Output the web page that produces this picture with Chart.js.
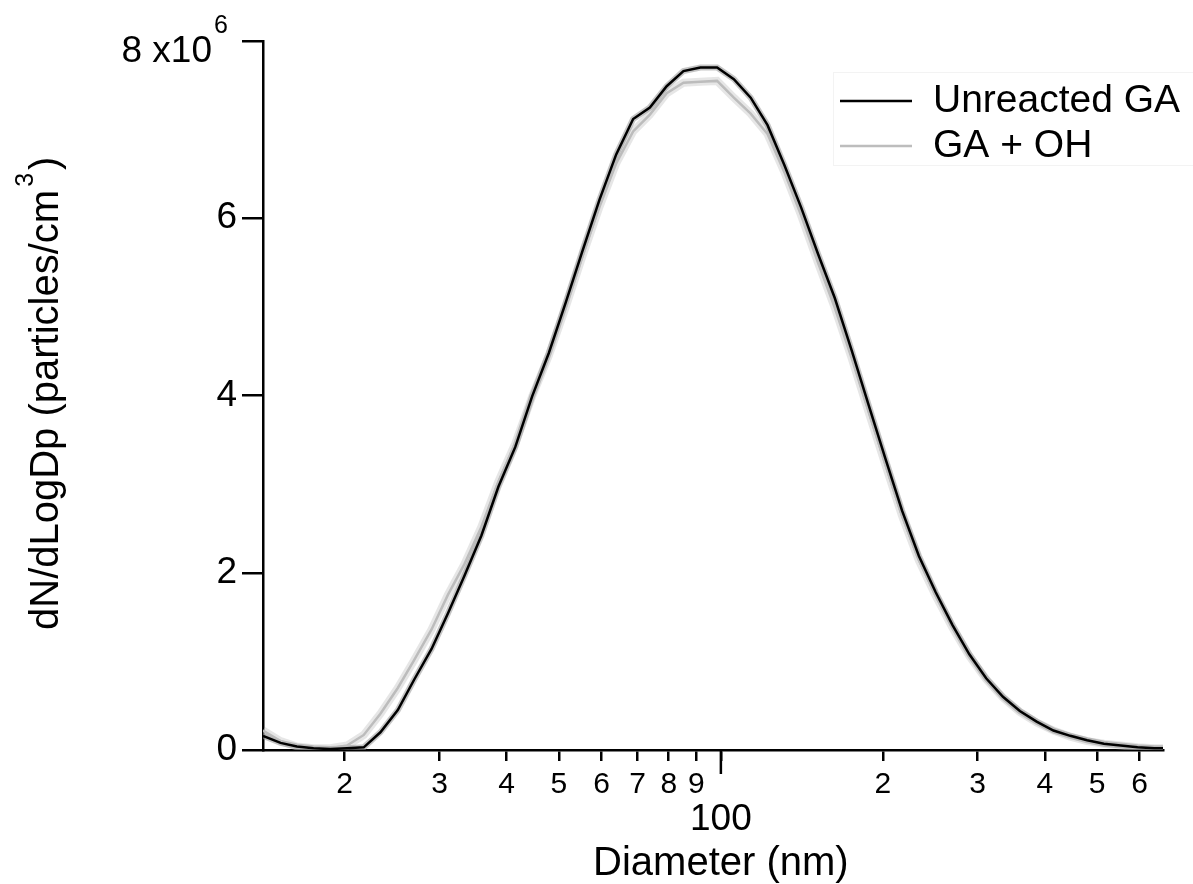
<!DOCTYPE html>
<html>
<head>
<meta charset="utf-8">
<script src="https://cdn.jsdelivr.net/npm/chart.js@4.4.1/dist/chart.umd.min.js"></script>
<style>
  html, body { margin: 0; padding: 0; background: #fff; }
  #wrap { position: relative; width: 1193px; height: 884px; }
</style>
</head>
<body>
<div id="wrap"><canvas id="c" width="1193" height="884"></canvas></div>
<script>
// Particle diameter bins (nm)
const diameterNm = [14.1, 15.2, 16.3, 17.5, 18.8, 20.2, 21.7, 23.3, 25.1, 26.9,
  29.0, 31.1, 33.4, 35.9, 38.6, 41.5, 44.6, 47.9, 51.5, 55.3,
  59.5, 63.9, 68.7, 73.8, 79.3, 85.2, 91.6, 98.4, 105.7, 113.6,
  122.1, 131.2, 141.0, 151.5, 162.8, 175.0, 188.0, 202.1, 217.1, 233.3,
  250.7, 269.4, 289.5, 311.1, 334.3, 359.3, 386.1, 414.9, 445.9, 479.1,
  514.9, 553.3, 594.6, 638.9, 663.0];
// dN/dLogDp in units of 10^6 particles/cm^3
const unreactedGA = [0.16, 0.08, 0.04, 0.02, 0.01, 0.02, 0.03, 0.20, 0.45, 0.79,
  1.14, 1.54, 1.97, 2.42, 2.97, 3.42, 3.99, 4.48, 5.05, 5.63,
  6.21, 6.72, 7.12, 7.25, 7.49, 7.66, 7.70, 7.70, 7.57, 7.36,
  7.05, 6.60, 6.12, 5.60, 5.10, 4.51, 3.90, 3.29, 2.70, 2.19,
  1.78, 1.41, 1.08, 0.81, 0.60, 0.44, 0.32, 0.22, 0.16, 0.11,
  0.07, 0.05, 0.03, 0.02, 0.02];
const gaPlusOH = [0.22, 0.10, 0.04, 0.02, 0.02, 0.05, 0.17, 0.41, 0.70, 1.01,
  1.36, 1.75, 2.10, 2.52, 3.03, 3.46, 3.99, 4.45, 5.00, 5.57,
  6.13, 6.62, 6.98, 7.17, 7.41, 7.53, 7.54, 7.55, 7.36, 7.18,
  6.95, 6.52, 6.03, 5.50, 4.99, 4.42, 3.82, 3.22, 2.64, 2.14,
  1.74, 1.38, 1.06, 0.80, 0.59, 0.43, 0.31, 0.22, 0.15, 0.10,
  0.07, 0.05, 0.03, 0.02, 0.02];
const seriesNames = ['Unreacted GA', 'GA + OH'];
const xTickValues = [20, 30, 40, 50, 60, 70, 80, 90, 100, 200, 300, 400, 500, 600];
const xTickLabels = ['2', '3', '4', '5', '6', '7', '8', '9', '', '2', '3', '4', '5', '6'];
const yTickValues = [0, 2, 4, 6, 8];
const yTickLabels = ['0', '2', '4', '6', ''];

const FONT = '"Liberation Sans", Arial, Helvetica, sans-serif';
const SCALE = 1e6;
const pts = arr => arr.map((v, i) => ({ x: diameterNm[i], y: v * SCALE }));

const decor = {
  id: 'decor',
  afterDraw(chart) {
    const { ctx, scales: { x, y } } = chart;
    ctx.save();
    ctx.fillStyle = '#000';
    ctx.strokeStyle = '#000';
    // longer major tick at 100
    const p100 = x.getPixelForValue(100);
    ctx.lineWidth = 2.5;
    ctx.beginPath();
    ctx.moveTo(p100, y.bottom);
    ctx.lineTo(p100, y.bottom + 24);
    ctx.stroke();
    // "100" major label
    ctx.textAlign = 'center';
    ctx.textBaseline = 'alphabetic';
    ctx.font = '37px ' + FONT;
    ctx.fillText('100', p100, 830);
    // x title
    ctx.font = '40px ' + FONT;
    ctx.fillText('Diameter (nm)', p100, 875);
    // top y label with exponent
    const p8 = y.getPixelForValue(8 * SCALE);
    ctx.textAlign = 'right';
    ctx.font = '37px ' + FONT;
    ctx.fillText('8 x10', 212, p8 + 21);
    ctx.textAlign = 'left';
    ctx.font = '25px ' + FONT;
    ctx.fillText('6', 214, p8 - 8);
    // y title (rotated)
    ctx.save();
    ctx.translate(58, 630);
    ctx.rotate(-Math.PI / 2);
    ctx.textAlign = 'left';
    ctx.font = '40px ' + FONT;
    const main = 'dN/dLogDp (particles/cm';
    ctx.fillText(main, 0, 0);
    const w = ctx.measureText(main).width;
    ctx.font = '25px ' + FONT;
    ctx.fillText('3', w + 3, -25);
    const sw = ctx.measureText('3').width;
    ctx.font = '40px ' + FONT;
    ctx.fillText(')', w + sw + 6, 0);
    ctx.restore();
    // legend
    ctx.strokeStyle = '#f3f3f3';
    ctx.lineWidth = 1;
    ctx.strokeRect(833.5, 72.5, 370, 93);
    ctx.lineWidth = 2.5;
    ctx.strokeStyle = '#000';
    ctx.beginPath(); ctx.moveTo(840, 101); ctx.lineTo(912, 101); ctx.stroke();
    ctx.strokeStyle = '#bdbdbd';
    ctx.beginPath(); ctx.moveTo(840, 146); ctx.lineTo(912, 146); ctx.stroke();
    ctx.fillStyle = '#000';
    ctx.textAlign = 'left';
    ctx.font = '39px ' + FONT;
    ctx.fillText(seriesNames[0], 933, 112);
    ctx.fillText(seriesNames[1], 933, 157);
    ctx.restore();
  }
};

new Chart(document.getElementById('c'), {
  type: 'line',
  data: {
    datasets: [
      { label: seriesNames[0], data: pts(unreactedGA), borderColor: '#000', borderWidth: 2.5,
        pointRadius: 0, tension: 0, order: 1 },
      { label: seriesNames[1], data: pts(gaPlusOH), borderColor: '#bcbcbc', borderWidth: 2.5,
        pointRadius: 0, tension: 0, order: 2 },
      { label: 'band1', data: pts(unreactedGA), borderColor: 'rgba(150,150,150,0.55)', borderWidth: 6,
        pointRadius: 0, tension: 0, order: 3 },
      { label: 'band2', data: pts(gaPlusOH), borderColor: 'rgba(200,200,200,0.45)', borderWidth: 8,
        pointRadius: 0, tension: 0, order: 4 }
    ]
  },
  options: {
    responsive: false,
    animation: false,
    devicePixelRatio: 1,
    layout: { padding: { top: 41, right: 30, left: 0, bottom: 0 } },
    plugins: { legend: { display: false }, tooltip: { enabled: false } },
    scales: {
      x: {
        type: 'logarithmic',
        min: 14.1,
        max: 663,
        afterBuildTicks: s => { s.ticks = xTickValues.map(v => ({ value: v })); },
        afterFit: s => { s.height = 134; },
        border: { display: true, color: '#000', width: 2.5 },
        grid: { drawOnChartArea: false, drawTicks: true, tickLength: 11, color: '#000', lineWidth: 2.5 },
        ticks: {
          autoSkip: false, maxRotation: 0, padding: 6, color: '#000',
          font: { family: FONT, size: 30 },
          callback: (v) => { const i = xTickValues.indexOf(v); return i >= 0 ? xTickLabels[i] : ''; }
        }
      },
      y: {
        type: 'linear',
        min: 0,
        max: 8 * SCALE,
        afterBuildTicks: s => { s.ticks = yTickValues.map(v => ({ value: v * SCALE })); },
        afterFit: s => { s.width = 263; },
        border: { display: true, color: '#000', width: 2.5 },
        grid: { drawOnChartArea: false, drawTicks: true, tickLength: 21, color: '#000', lineWidth: 2.5 },
        ticks: {
          autoSkip: false, padding: 5, color: '#000',
          font: { family: FONT, size: 37 },
          callback: (v) => { const i = yTickValues.indexOf(v / SCALE); return i >= 0 ? yTickLabels[i] : ''; }
        }
      }
    }
  },
  plugins: [decor]
});
</script>
</body>
</html>
